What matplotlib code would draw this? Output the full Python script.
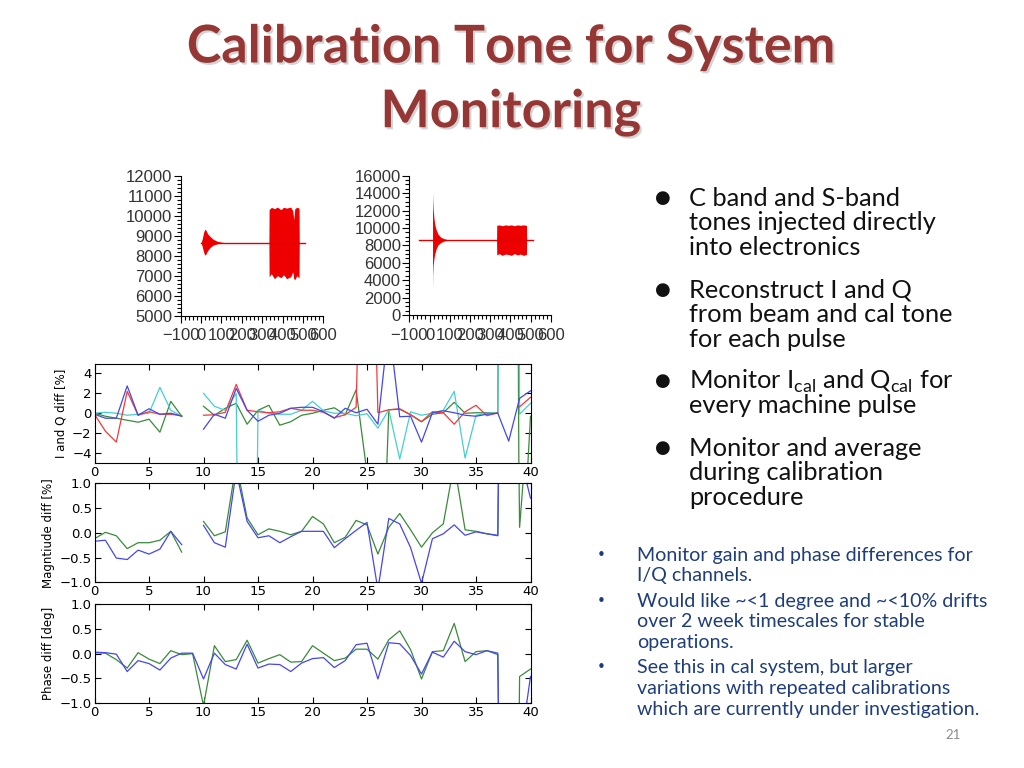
import numpy as np
import matplotlib
matplotlib.use('Agg')
import matplotlib.pyplot as plt
import matplotlib.patheffects as pe
from matplotlib.ticker import MultipleLocator

nan = np.nan

# ---------------------------------------------------------------------------
# Raw waveforms (envelope)
# ---------------------------------------------------------------------------
wf1_baseline = 8650
wf1_span = [0, 510]
wf1_ring_t = [0, 6, 12, 18, 24, 32, 45, 60, 80, 100, 115]
wf1_ring_hi = [8650, 8850, 9150, 9320, 9280, 9100, 8950, 8820, 8720, 8680, 8650]
wf1_ring_lo = [8650, 8450, 8200, 8030, 8080, 8250, 8420, 8530, 8600, 8630, 8650]
wf1_burst_t = [333, 334, 345, 360, 375, 392, 405, 420, 440, 450, 455, 460, 470, 481, 482]
wf1_burst_hi = [8650, 10300, 10420, 10350, 10430, 10300, 10420, 10380, 10430, 10250, 9800, 10350, 10420, 10380, 8650]
wf1_burst_lo = [8650, 6950, 7100, 6850, 7000, 6900, 7050, 6850, 6950, 7200, 6850, 6800, 7000, 6900, 8650]

wf2_baseline = 8620
wf2_span = [-50, 511]
wf2_ring_t = [15, 16, 18, 22, 27, 33, 42, 55, 70, 85, 105]
wf2_ring_hi = [14130, 13300, 12200, 11100, 10300, 9800, 9300, 8950, 8780, 8680, 8620]
wf2_ring_lo = [2760, 4600, 5700, 6500, 7100, 7600, 8050, 8300, 8480, 8570, 8620]
wf2_burst_t = [332, 333, 345, 360, 375, 390, 405, 420, 435, 450, 465, 480, 481]
wf2_burst_hi = [8620, 10300, 10350, 10250, 10350, 10300, 10350, 10250, 10350, 10300, 10350, 10300, 8620]
wf2_burst_lo = [8620, 6900, 7050, 6850, 7000, 6950, 6850, 7050, 6900, 7000, 6850, 6950, 8620]

# ---------------------------------------------------------------------------
# Pulse-by-pulse differences (index 0..40)
# ---------------------------------------------------------------------------
pulse = np.arange(41)

iq_blue = [-0.1, -0.5, -0.5, 2.75, -0.2, 0.45, -0.1, 0.0, -0.3, nan,
           -1.6, -0.1, -0.5, 2.5, 0.3, -0.8, -0.2, 0.0, 0.5, 0.6,
           0.6, 0.15, -0.5, 0.5, 0.05, 0.4, -1.1, 9.0, -0.35, -0.3,
           -2.9, 0.05, 0.25, 0.05, -0.2, -0.3, -0.1, 0.0, -2.8, 1.5, 2.25]
iq_red = [-0.1, -1.8, -2.9, 2.2, -0.2, 0.15, -0.1, -0.1, -0.25, nan,
          -0.2, -0.15, 0.1, 2.9, 0.3, 0.15, 0.05, 0.15, 0.5, 0.3,
          0.3, 0.1, -0.45, -0.15, 0.6, 44.0, 0.05, 0.35, 0.45, -0.15,
          -0.85, 0.15, 0.05, -1.1, 0.15, 0.8, -0.25, 0.05, nan, 0.65, 1.6]
iq_green = [0.0, -0.3, -0.5, -0.7, -0.9, -0.6, -1.9, 1.2, -0.3, nan,
            0.7, -0.2, 0.5, 1.0, -1.1, 0.3, 0.8, -1.2, -0.85, -0.2,
            0.0, 0.3, 0.55, -0.15, 2.35, -6.0, -30.0, 0.35, 0.4, -0.15,
            -0.85, -0.1, 0.05, 1.1, 0.0, 0.05, 0.05, 0.0, 200.0, -20.0, -0.3]
iq_cyan = [0.0, 0.1, 0.0, -0.2, -0.1, 0.0, 2.6, 0.3, -0.3, nan,
           2.0, 0.7, 0.3, 2.0, -100.0, 0.3, 0.0, -0.1, -0.1, 0.3,
           1.2, 0.25, 0.0, 0.0, -0.25, -0.05, -1.5, 0.35, -4.6, 0.15,
           -0.2, 0.0, 0.3, 2.2, -4.5, -0.2, 0.0, 0.05, 200.0, -0.1, 1.0]

mag_blue = [-0.17, -0.15, -0.51, -0.54, -0.35, -0.43, -0.33, 0.03, -0.24, nan,
            0.15, -0.2, -0.29, 1.25, 0.23, -0.1, -0.06, -0.2, -0.08, 0.03,
            0.03, 0.03, -0.3, -0.12, 0.05, 0.21, -1.15, 0.29, 0.18, -0.3,
            -1.02, -0.12, -0.02, 0.16, -0.05, 0.02, -0.02, -0.05, 20.0, 1.6, 0.7]
mag_green = [-0.12, 0.01, -0.06, -0.32, -0.2, -0.2, -0.15, 0.03, -0.39, nan,
             0.23, -0.06, 0.02, 1.4, 0.3, -0.04, 0.08, 0.03, -0.04, 0.03,
             0.33, 0.18, -0.2, -0.09, 0.25, 0.16, -0.43, 0.11, 0.39, 0.06,
             -0.29, 0.0, 0.18, 1.4, 0.06, 0.03, -0.02, -0.06, 20.0, 0.11, 3.0]

ph_blue = [0.03, 0.02, -0.01, -0.36, -0.14, -0.2, -0.33, -0.09, 0.01, 0.01,
           -0.51, 0.01, -0.22, -0.31, 0.19, -0.29, -0.21, -0.22, -0.36, -0.19,
           -0.1, -0.08, -0.28, -0.14, 0.18, 0.21, -0.51, 0.22, 0.2, -0.04,
           -0.41, 0.03, -0.07, 0.25, 0.04, -0.02, 0.06, 0.01, -20.0, -2.0, -0.46]
ph_green = [0.02, 0.01, -0.12, -0.29, 0.02, -0.11, -0.2, 0.06, -0.02, 0.0,
            -1.05, 0.16, -0.16, -0.12, 0.27, -0.19, -0.1, -0.02, -0.17, -0.16,
            0.16, 0.01, -0.14, -0.09, 0.09, 0.09, -0.11, 0.28, 0.46, 0.08,
            -0.51, 0.04, 0.06, 0.61, -0.16, 0.04, 0.06, -0.02, -20.0, -0.46, -0.31]

C_BLUE, C_RED, C_GREEN, C_CYAN = '#4646ee', '#f23a3a', '#3a8a3a', '#45cfcf'

W, H = 1024, 768
fig = plt.figure(figsize=(W / 100, H / 100), dpi=100)
fig.patch.set_facecolor('white')


def px_axes(left, top, right, bottom):
    return fig.add_axes([left / W, 1 - bottom / H, (right - left) / W, (bottom - top) / H])


def ftext(x, y, s, **kw):
    return fig.text(x / W, 1 - y / H, s, **kw)


# ---------------------------------------------------------------------------
# Title
# ---------------------------------------------------------------------------
shadow = [pe.withSimplePatchShadow(offset=(1.5, -1.5), shadow_rgbFace='#aaaaaa', alpha=0.5)]
for yy, line in [(48, 'Calibration Tone for System'), (113, 'Monitoring')]:
    ftext(511, yy, line, ha='center', va='center', fontsize=37.5, fontweight='bold',
          family='Lato', color='#953735', path_effects=shadow)

# ---------------------------------------------------------------------------
# Waveform panels
# ---------------------------------------------------------------------------
def waveform(ax, base, span, ring, burst, ylim, ymaj, ymin):
    ax.plot(span, [base, base], color='#e00000', lw=1.0)
    for t, hi, lo in (ring, burst):
        ax.fill_between(t, lo, hi, color='#ee0000', lw=0)
    ax.set_xlim(-100, 600)
    ax.set_ylim(*ylim)
    for s in ('top', 'right'):
        ax.spines[s].set_visible(False)
    ax.xaxis.set_major_locator(MultipleLocator(100))
    ax.xaxis.set_minor_locator(MultipleLocator(20))
    ax.yaxis.set_major_locator(MultipleLocator(ymaj))
    ax.yaxis.set_minor_locator(MultipleLocator(ymin))
    ax.tick_params(which='both', direction='out', labelsize=12, width=0.8, pad=1)
    ax.tick_params(axis='x', pad=4)
    ax.tick_params(which='major', length=5)
    ax.tick_params(which='minor', length=3)
    for lab in ax.get_xticklabels() + ax.get_yticklabels():
        lab.set_family('Liberation Sans')
        lab.set_color('#333333')


axw1 = px_axes(180.7, 175.7, 323.3, 315.7)
waveform(axw1, wf1_baseline, wf1_span, (wf1_ring_t, wf1_ring_hi, wf1_ring_lo),
         (wf1_burst_t, wf1_burst_hi, wf1_burst_lo), (5000, 12000), 1000, 200)
axw2 = px_axes(409.3, 175.7, 550.7, 315.0)
waveform(axw2, wf2_baseline, wf2_span, (wf2_ring_t, wf2_ring_hi, wf2_ring_lo),
         (wf2_burst_t, wf2_burst_hi, wf2_burst_lo), (0, 16000), 2000, 500)

# ---------------------------------------------------------------------------
# Difference panels
# ---------------------------------------------------------------------------
def style_diff(ax, ylim, yticks, ylabel):
    ax.set_xlim(0, 40)
    ax.set_ylim(*ylim)
    ax.set_yticks(yticks)
    ax.xaxis.set_major_locator(MultipleLocator(5))
    ax.tick_params(direction='in', top=True, right=True, length=4, width=0.8,
                   labelsize=9.5, pad=2)
    ax.set_ylabel(ylabel, fontsize=8.5, labelpad=3)
    for s in ax.spines.values():
        s.set_linewidth(0.8)


ax1 = px_axes(94.5, 363.5, 530.5, 463)
for vals, c in [(iq_green, C_GREEN), (iq_cyan, C_CYAN), (iq_red, C_RED), (iq_blue, C_BLUE)]:
    ax1.plot(pulse, vals, color=c, lw=0.9)
style_diff(ax1, (-5, 5), [-4, -2, 0, 2, 4], 'I and Q diff [%]')

ax2 = px_axes(94.5, 483.3, 530.5, 582.3)
ax2.plot(pulse, mag_green, color=C_GREEN, lw=0.9)
ax2.plot(pulse, mag_blue, color=C_BLUE, lw=0.9)
style_diff(ax2, (-1, 1), [-1.0, -0.5, 0.0, 0.5, 1.0], 'Magntiude diff [%]')

ax3 = px_axes(94.5, 604, 530.5, 703.3)
ax3.plot(pulse, ph_green, color=C_GREEN, lw=0.9)
ax3.plot(pulse, ph_blue, color=C_BLUE, lw=0.9)
style_diff(ax3, (-1, 1), [-1.0, -0.5, 0.0, 0.5, 1.0], 'Phase diff [deg]')

# ---------------------------------------------------------------------------
# Bullet text
# ---------------------------------------------------------------------------
big_bullets = [
    (198, ['C band and S-band', 'tones injected directly', 'into electronics']),
    (290, ['Reconstruct I and Q', 'from beam and cal tone', 'for each pulse']),
    (381, [r'Monitor I$_{\mathregular{cal}}$ and Q$_{\mathregular{cal}}$ for', 'every machine pulse']),
    (448, ['Monitor and average', 'during calibration', 'procedure']),
]
for y0, lines in big_bullets:
    ftext(663, y0, '\u25cf', ha='center', va='center', fontsize=13, family='DejaVu Sans', color='#111111')
    for i, line in enumerate(lines):
        ftext(689, y0 + 24.7 * i, line, ha='left', va='center', fontsize=18.3,
              family='Lato', color='#111111')

small_bullets = [
    (555, ['Monitor gain and phase differences for', 'I/Q channels.']),
    (601, ['Would like ~<1 degree and ~<10% drifts', 'over 2 week timescales for stable', 'operations.']),
    (668, ['See this in cal system, but larger', 'variations with repeated calibrations',
           'which are currently under investigation.']),
]
for y0, lines in small_bullets:
    ftext(601, y0, '\u2022', ha='center', va='center', fontsize=11, family='DejaVu Sans', color='#1f3d7a')
    for i, line in enumerate(lines):
        ftext(637, y0 + 20.7 * i, line, ha='left', va='center', fontsize=14.1,
              family='Lato', color='#1f3d7a')

ftext(953, 735, '21', ha='center', va='center', fontsize=9.5, family='Lato', color='#8a8a8a')

fig.savefig('out.png', dpi=100, facecolor='white')
